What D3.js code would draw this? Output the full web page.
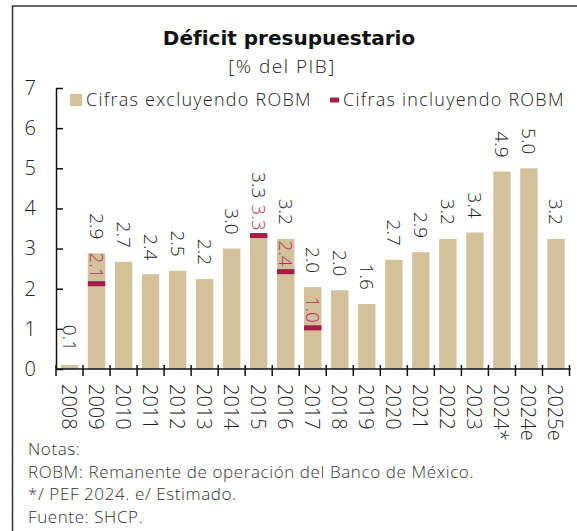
<!DOCTYPE html>
<html lang="es">
<head>
<meta charset="UTF-8">
<title>Déficit presupuestario</title>
<style>
  body { margin: 0; background: #fff; }
  svg { display: block; }
  text { font-family: "Open Sans", sans-serif; font-weight: 300; fill: #222; }
</style>
</head>
<body>
<div id="grafica"></div>
<script src="https://d3js.org/d3.v7.min.js"></script>
<script>

// datos
let anios = ['2008', '2009', '2010', '2011', '2012', '2013', '2014', '2015', '2016', '2017',
             '2018', '2019', '2020', '2021', '2022', '2023', '2024*', '2024e', '2025e'];
let sinRobm = [0.1, 2.88, 2.67, 2.36, 2.45, 2.24, 3.0, 3.3, 3.24, 2.04,
               1.96, 1.62, 2.72, 2.91, 3.24, 3.4, 4.92, 5.0, 3.24];
let etiquetas = ['0.1', '2.9', '2.7', '2.4', '2.5', '2.2', '3.0', '3.3', '3.2', '2.0',
                 '2.0', '1.6', '2.7', '2.9', '3.2', '3.4', '4.9', '5.0', '3.2'];
let conRobm = [null, 2.1, null, null, null, null, null, 3.3, 2.4, 1.0,
               null, null, null, null, null, null, null, null, null];
let ticksY = [0, 1, 2, 3, 4, 5, 6, 7];
let notas = ['Notas:',
             'ROBM: Remanente de operación del Banco de México.',
             '*/ PEF 2024. e/ Estimado.',
             'Fuente: SHCP.'];

let W = 577, H = 531;
let colorBarra = '#d4c19c', colorRojo = '#a01e48', colorTextoRojo = '#b03460';

let svg = d3.select('#grafica').append('svg')
            .attr('width', W).attr('height', H);

// marco
svg.append('path')
   .attr('d', 'M12.5,531 V6 H577')
   .attr('fill', 'none')
   .attr('stroke', '#333')
   .attr('stroke-width', 1.5);

// titulo
svg.append('text')
   .attr('x', 289).attr('y', 45)
   .attr('text-anchor', 'middle')
   .style('font-family', '"DejaVu Sans", sans-serif')
   .style('font-weight', 'bold')
   .style('font-size', '20px')
   .style('fill', '#111')
   .text('Déficit presupuestario');

svg.append('text')
   .attr('x', 282).attr('y', 73)
   .attr('text-anchor', 'middle')
   .style('font-size', '19px')
   .style('letter-spacing', '1.5px')
   .text('[% del PIB]');

// escalas
let x = d3.scaleBand()
          .domain(anios)
          .range([56, 569.5])
          .paddingInner(0.356)
          .paddingOuter(0.178);

let y = d3.scaleLinear()
          .domain([0, 7])
          .range([369, 88]);

// barras
svg.selectAll('rect.barra')
   .data(anios)
   .enter()
   .append('rect')
   .attr('class', 'barra')
   .attr('x', d => x(d))
   .attr('width', x.bandwidth())
   .attr('y', (d, i) => y(sinRobm[i]))
   .attr('height', (d, i) => y(0) - y(sinRobm[i]))
   .attr('fill', colorBarra);

// marcas ROBM
svg.selectAll('rect.robm')
   .data(anios.filter((d, i) => conRobm[i] != null))
   .enter()
   .append('rect')
   .attr('class', 'robm')
   .attr('x', d => x(d))
   .attr('width', x.bandwidth())
   .attr('y', d => y(conRobm[anios.indexOf(d)]) - 3.5)
   .attr('height', 5)
   .attr('fill', colorRojo);

// eje Y
let axeY = d3.axisLeft(y)
             .tickValues(ticksY)
             .tickFormat(d3.format('d'))
             .tickSize(-7)
             .tickSizeOuter(0)
             .tickPadding(20);

let gY = svg.append('g')
            .attr('transform', `translate(${56}, 0)`)
            .call(axeY);
gY.select('.domain').attr('stroke', '#111').attr('stroke-width', 1.5);
gY.selectAll('.tick line').attr('stroke', '#111').attr('stroke-width', 1.5);
gY.selectAll('.tick text')
  .style('font-family', '"Open Sans", sans-serif')
  .style('font-weight', 300)
  .style('font-size', '20px')
  .attr('fill', '#222');

// eje X
let y0 = y(0);
svg.append('line')
   .attr('x1', x.range()[0]).attr('x2', x.range()[1] + 1)
   .attr('y1', y0).attr('y2', y0)
   .attr('stroke', '#111').attr('stroke-width', 1.5);

svg.selectAll('line.tx')
   .data(d3.range(anios.length + 1))
   .enter()
   .append('line')
   .attr('class', 'tx')
   .attr('x1', i => x.range()[0] + i * x.step())
   .attr('x2', i => x.range()[0] + i * x.step())
   .attr('y1', y0 - 4).attr('y2', y0 + 7)
   .attr('stroke', '#111').attr('stroke-width', 1.5);

svg.selectAll('text.anio')
   .data(anios)
   .enter()
   .append('text')
   .attr('class', 'anio')
   .attr('transform', d => `translate(${x(d) + x.bandwidth() / 2}, ${y0 + 15}) rotate(90)`)
   .attr('dominant-baseline', 'central')
   .style('font-size', '20px')
   .text(d => d);

// etiquetas de valor
anios.forEach(function(d, i) {
    let cx = x(d) + x.bandwidth() / 2;
    let limite = y(sinRobm[i]) - 14;

    if (conRobm[i] != null) {
        let finRojo = y(conRobm[i]) - 6;
        let t = svg.append('text')
                   .attr('transform', `translate(${cx}, ${finRojo}) rotate(90)`)
                   .attr('text-anchor', 'end')
                   .attr('dominant-baseline', 'central')
                   .style('font-size', '19px')
                   .style('fill', colorTextoRojo)
                   .text(conRobm[i].toFixed(1));
        let inicio = finRojo - t.node().getComputedTextLength();
        limite = Math.min(limite, inicio - 6);
    }

    svg.append('text')
       .attr('transform', `translate(${cx}, ${limite}) rotate(90)`)
       .attr('text-anchor', 'end')
       .attr('dominant-baseline', 'central')
       .style('font-size', '19px')
       .text(etiquetas[i]);
});

// leyenda
svg.append('rect')
   .attr('x', 70).attr('y', 94).attr('width', 12).attr('height', 12)
   .attr('fill', colorBarra);
svg.append('text')
   .attr('x', 86).attr('y', 106)
   .style('font-size', '18px')
   .style('letter-spacing', '1.25px')
   .text('Cifras excluyendo ROBM');

svg.append('rect')
   .attr('x', 330).attr('y', 97.5).attr('width', 9).attr('height', 5)
   .attr('fill', colorRojo);
svg.append('text')
   .attr('x', 343).attr('y', 106)
   .style('font-size', '18px')
   .style('letter-spacing', '1.25px')
   .text('Cifras incluyendo ROBM');

// notas
svg.selectAll('text.nota')
   .data(notas)
   .enter()
   .append('text')
   .attr('class', 'nota')
   .attr('x', 28)
   .attr('y', (d, i) => 455 + i * 22.7)
   .style('font-size', '17px')
   .style('letter-spacing', '0.6px')
   .style('fill', '#333')
   .text(d => d);

</script>
</body>
</html>
